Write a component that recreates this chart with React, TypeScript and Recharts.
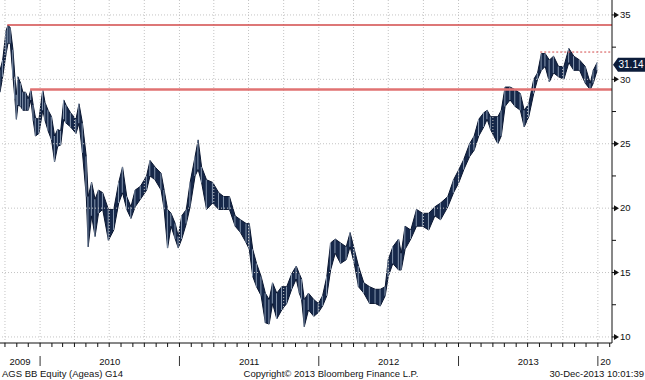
import { ComposedChart, Area, Bar, XAxis, YAxis, ReferenceLine } from "recharts";

const dates = [
  "2009-09-18", "2009-09-25", "2009-10-04", "2009-10-09", "2009-10-15", "2009-10-22", "2009-10-27", "2009-10-31", "2009-11-04", "2009-11-11",
  "2009-11-17", "2009-11-24", "2009-12-01", "2009-12-08", "2009-12-14", "2009-12-20", "2009-12-29", "2010-01-08", "2010-01-14", "2010-01-22",
  "2010-01-31", "2010-02-08", "2010-02-16", "2010-02-24", "2010-03-04", "2010-03-10", "2010-03-22", "2010-04-05", "2010-04-13", "2010-04-22",
  "2010-05-02", "2010-05-07", "2010-05-16", "2010-05-25", "2010-06-03", "2010-06-14", "2010-06-29", "2010-07-13", "2010-07-26", "2010-08-05",
  "2010-08-16", "2010-08-27", "2010-09-07", "2010-09-21", "2010-10-07", "2010-10-16", "2010-10-29", "2010-11-14", "2010-11-22", "2010-12-01",
  "2010-12-10", "2010-12-21", "2010-12-29", "2011-01-07", "2011-01-19", "2011-01-29", "2011-02-11", "2011-02-19", "2011-02-28", "2011-03-13",
  "2011-03-29", "2011-04-14", "2011-04-27", "2011-05-12", "2011-05-27", "2011-06-10", "2011-06-25", "2011-07-03", "2011-07-12", "2011-07-22",
  "2011-08-03", "2011-08-14", "2011-08-24", "2011-09-02", "2011-09-13", "2011-09-26", "2011-10-09", "2011-10-22", "2011-11-03", "2011-11-11",
  "2011-11-17", "2011-11-24", "2011-12-05", "2011-12-19", "2011-12-31", "2012-01-11", "2012-01-22", "2012-02-01", "2012-02-13", "2012-02-27",
  "2012-03-13", "2012-03-23", "2012-04-03", "2012-04-14", "2012-04-28", "2012-05-13", "2012-05-28", "2012-06-10", "2012-06-23", "2012-07-01",
  "2012-07-13", "2012-07-28", "2012-08-04", "2012-08-14", "2012-08-29", "2012-09-13", "2012-09-29", "2012-10-15", "2012-10-31", "2012-11-15",
  "2012-12-04", "2012-12-19", "2013-01-02", "2013-01-15", "2013-01-30", "2013-02-11", "2013-02-23", "2013-03-08", "2013-03-17", "2013-03-26",
  "2013-04-14", "2013-04-23", "2013-05-03", "2013-05-16", "2013-05-29", "2013-06-12", "2013-06-22", "2013-07-04", "2013-07-17", "2013-07-27",
  "2013-08-06", "2013-08-16", "2013-08-27", "2013-09-07", "2013-09-20", "2013-10-04", "2013-10-17", "2013-10-30", "2013-11-14", "2013-11-29",
  "2013-12-12", "2013-12-20", "2013-12-30",
];

const lows = [
  29.0, 30.2, 32.0, 32.8, 32.8, 30.2, 28.5, 26.9, 28.0, 27.9,
  27.6, 27.6, 27.6, 28.4, 26.8, 25.6, 25.8, 27.6, 26.8, 26.0,
  25.3, 23.6, 24.8, 24.9, 26.9, 26.6, 26.3, 25.8, 26.6, 24.3,
  20.9, 17.0, 19.4, 17.8, 19.6, 19.9, 17.5, 18.3, 20.4, 21.2,
  19.9, 19.2, 20.1, 20.7, 21.4, 22.5, 22.2, 21.4, 19.9, 16.9,
  18.6, 17.6, 16.9, 17.6, 18.8, 20.1, 22.5, 23.0, 22.0, 19.9,
  20.4, 19.9, 19.9, 19.9, 18.6, 18.1, 17.3, 16.8, 14.7, 13.9,
  13.2, 11.1, 11.0, 12.6, 11.4, 12.1, 12.6, 13.7, 14.5, 13.4,
  12.9, 10.8, 12.1, 11.6, 11.9, 12.4, 13.2, 15.2, 16.5, 15.7,
  16.0, 17.0, 15.7, 13.9, 13.4, 12.6, 12.6, 12.4, 13.2, 14.7,
  15.7, 15.2, 15.2, 16.8, 17.6, 18.6, 18.6, 18.3, 19.4, 19.1,
  20.1, 21.2, 22.0, 23.0, 24.0, 24.5, 25.6, 26.3, 26.9, 26.1,
  25.0, 25.6, 27.9, 28.4, 27.9, 27.6, 26.3, 27.1, 28.9, 30.0,
  30.7, 31.0, 29.8, 30.5, 30.2, 30.0, 31.3, 30.7, 30.7, 29.7,
  29.2, 29.7, 30.7,
];

const highs = [
  30.7, 31.5, 33.8, 34.2, 34.0, 32.3, 30.2, 28.8, 30.2, 29.7,
  29.0, 29.0, 28.5, 29.2, 28.0, 27.0, 26.9, 29.2, 28.2, 27.6,
  27.1, 25.6, 26.1, 26.0, 28.4, 28.0, 27.4, 26.9, 28.1, 26.6,
  24.0, 20.9, 22.0, 20.7, 21.4, 21.2, 19.9, 19.9, 22.0, 23.2,
  20.9, 20.1, 21.4, 21.7, 22.5, 23.7, 23.2, 22.7, 21.4, 19.9,
  19.6, 18.8, 17.8, 19.4, 19.9, 22.0, 24.0, 25.3, 23.2, 22.2,
  22.0, 21.2, 20.9, 20.9, 19.4, 19.1, 18.8, 18.8, 16.8, 15.7,
  14.7, 13.4, 12.9, 14.2, 13.4, 13.9, 13.9, 14.9, 15.5, 14.9,
  14.5, 12.9, 13.4, 12.9, 12.6, 13.2, 14.7, 17.3, 17.6, 17.3,
  17.0, 18.1, 16.8, 15.5, 14.2, 13.9, 13.7, 13.7, 13.9, 16.0,
  17.0, 17.6, 16.5, 18.6, 18.3, 19.9, 19.6, 19.6, 20.1, 20.4,
  20.9, 22.2, 23.0, 23.8, 25.0, 25.6, 26.9, 27.4, 27.6, 27.1,
  27.1, 27.6, 29.4, 29.4, 29.2, 28.9, 27.6, 28.1, 30.0, 30.5,
  32.0, 32.0, 31.5, 31.8, 31.0, 31.0, 32.4, 31.8, 31.5, 31.0,
  29.7, 30.7, 31.3,
];

const lastPrice = 31.14;
const majorTicks = [10, 15, 20, 25, 30, 35];
const minorTicks = [12.5, 17.5, 22.5, 27.5, 32.5];
const years = [2009, 2010, 2011, 2012, 2013, 2014];
const startDate = "2009-09-18";
const endDate = "2014-02-07";

// horizontal levels drawn on the chart
const levelValues = [34.22, 29.22];
const levelFrom = ["2009-10-07", "2009-12-06"];
const recentHigh = 32.12;
const recentHighFrom = "2013-08-03";

const footerLeft = "AGS BB Equity (Ageas) G14";
const footerMid = "Copyright\u00a9 2013 Bloomberg Finance L.P.";
const footerRight = "30-Dec-2013 10:01:39";

const FONT = "'Liberation Sans', Arial, sans-serif";
const DAY = 86400000;

const t0 = Date.parse(startDate);
const t1 = Date.parse(endDate);

const data = dates.map((d, i) => ({ t: Date.parse(d), lo: lows[i], hi: highs[i] }));

const monthTicks: number[] = [];
const quarterTicks: number[] = [];
for (const y of years) {
  for (let m = 0; m < 12; m++) {
    const t = Date.UTC(y, m, 1);
    if (t < t0 || t > t1) continue;
    monthTicks.push(t);
    if (m % 3 === 0) quarterTicks.push(t);
  }
}

const yearLabels = years.map((y) => {
  const a = Math.max(Date.UTC(y, 0, 1), t0);
  const b = Math.min(Date.UTC(y + 1, 0, 1), t1);
  const short = b - a < 60 * DAY;
  return { t: short ? a + DAY : (a + b) / 2, text: String(y), short };
});

const XTick = (props: any) => {
  const { x, y, payload } = props;
  const v = payload.value;
  const lab = yearLabels.find((l) => l.t === v);
  if (lab) {
    return (
      <text
        x={lab.short ? x + 2 : x}
        y={y + 22}
        textAnchor={lab.short ? "start" : "middle"}
        fontSize={9.5}
        fontFamily={FONT}
        fill="#111"
      >
        {lab.short ? lab.text.slice(0, 2) : lab.text}
      </text>
    );
  }
  const isJan = new Date(v).getUTCMonth() === 0;
  return (
    <g>
      <line x1={x} x2={x} y1={y} y2={y + 4} stroke="#111" />
      {isJan && <line x1={x} x2={x} y1={y + 13} y2={y + 23} stroke="#333" />}
    </g>
  );
};

const YTick = (props: any) => {
  const { x, y, payload } = props;
  const v = payload.value;
  if (v === lastPrice) {
    return (
      <g>
        <path d={`M${x + 1},${y} L${x + 6},${y - 7} L${x + 33},${y - 7} L${x + 33},${y + 7} L${x + 6},${y + 7} Z`} fill="#0c1c3a" />
        <text x={x + 19} y={y} dy="0.35em" textAnchor="middle" fontSize={10} fontFamily={FONT} fill="#fff">
          {lastPrice.toFixed(2)}
        </text>
      </g>
    );
  }
  if (majorTicks.includes(v)) {
    return (
      <g>
        <line x1={x} x2={x + 3} y1={y} y2={y} stroke="#111" />
        <path d={`M${x + 2},${y - 3} L${x + 7},${y} L${x + 2},${y + 3} Z`} fill="#111" />
        <text x={x + 8} y={y} dy="0.35em" fontSize={9.5} fontFamily={FONT} fill="#111">
          {v}
        </text>
      </g>
    );
  }
  return <line x1={x} x2={x + 4} y1={y} y2={y} stroke="#111" />;
};

export default function App() {
  return (
    <div style={{ position: "relative", width: 645, height: 380, background: "#fff" }}>
      <style>{"body{margin:0}"}</style>
      <ComposedChart width={645} height={380} data={data} margin={{ top: 0, right: 0, left: 0, bottom: 0 }}>
        <XAxis
          dataKey="t"
          type="number"
          domain={[t0, t1]}
          allowDataOverflow
          ticks={[...monthTicks, ...yearLabels.map((l) => l.t)]}
          interval={0}
          tick={XTick}
          tickLine={false}
          tickSize={0}
          tickMargin={0}
          height={37}
          axisLine={{ stroke: "#111" }}
        />
        <YAxis
          orientation="right"
          type="number"
          domain={[9.53, 36.16]}
          allowDataOverflow
          ticks={[...majorTicks, ...minorTicks, lastPrice]}
          interval={0}
          tick={YTick}
          tickLine={false}
          tickSize={0}
          tickMargin={0}
          width={33}
          axisLine={{ stroke: "#111" }}
        />
        {majorTicks.map((v) => (
          <ReferenceLine key={`h${v}`} y={v} stroke="#c4c4c4" strokeDasharray="1 2" />
        ))}
        {quarterTicks.map((t) => (
          <ReferenceLine key={`v${t}`} x={t} stroke="#c4c4c4" strokeDasharray="1 2" />
        ))}
        <Area
          dataKey={(d: any) => [d.lo, d.hi]}
          type="linear"
          fill="#16284a"
          fillOpacity={1}
          stroke="#0a1630"
          strokeWidth={1}
          dot={false}
          activeDot={false}
          isAnimationActive={false}
        />
        <Bar dataKey={(d: any) => [d.lo, d.hi]} barSize={1} fill="#8798b0" isAnimationActive={false} />
        {levelValues.map((v, i) => (
          <ReferenceLine
            key={`lvl${i}`}
            segment={[
              { x: Date.parse(levelFrom[i]), y: v },
              { x: t1, y: v },
            ]}
            stroke={i === 0 ? "#d24a4a" : "#e07272"}
            strokeWidth={i === 0 ? 1.5 : 2.5}
          />
        ))}
        <ReferenceLine
          segment={[
            { x: Date.parse(recentHighFrom), y: recentHigh },
            { x: t1, y: recentHigh },
          ]}
          stroke="#d24a4a"
          strokeDasharray="2 2"
        />
      </ComposedChart>
      <svg width={645} height={380} style={{ position: "absolute", left: 0, top: 0, pointerEvents: "none" }}>
        <g fontFamily={FONT} fontSize={9.5} fill="#111">
          <text x={2} y={377}>{footerLeft}</text>
          <text x={331} y={377} textAnchor="middle">{footerMid}</text>
          <text x={644} y={377} textAnchor="end">{footerRight}</text>
        </g>
      </svg>
    </div>
  );
}
